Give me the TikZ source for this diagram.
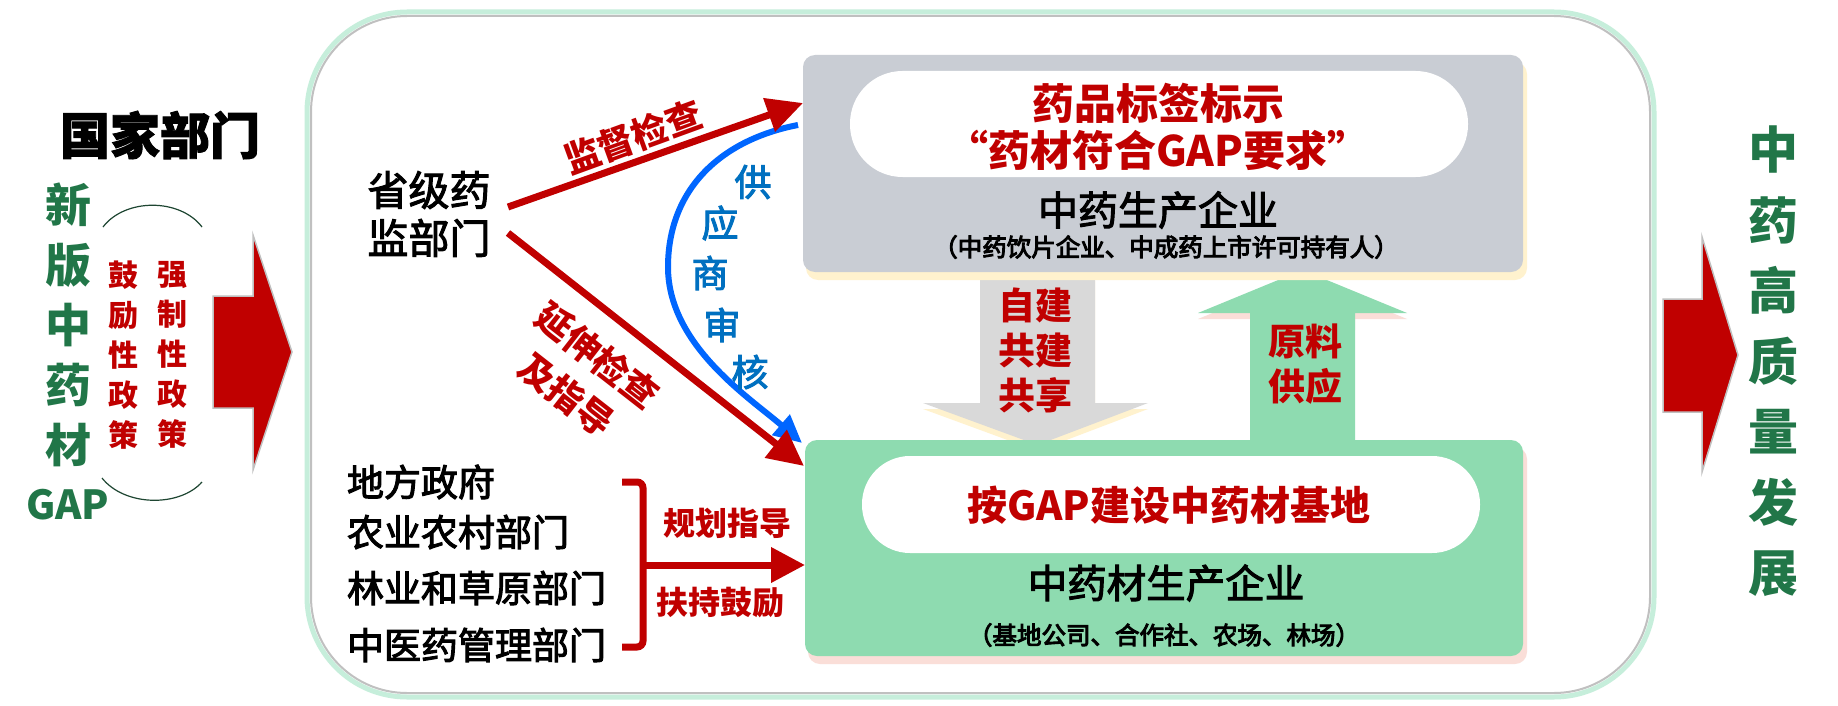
\documentclass[tikz,border=0pt]{standalone}
\usepackage{fontspec}
\newfontfamily\cjk{Noto Sans CJK SC}
\usetikzlibrary{arrows.meta}
\definecolor{myred}{RGB}{192,0,0}
\definecolor{dgreen}{RGB}{33,118,72}
\definecolor{boxgrey}{RGB}{201,205,212}
\definecolor{boxgreen}{RGB}{142,219,176}
\definecolor{arrgrey}{RGB}{217,217,217}
\definecolor{lineblue}{RGB}{0,102,255}
\definecolor{textblue}{RGB}{0,112,192}
\definecolor{outgreen}{RGB}{198,238,219}
\definecolor{shgrey}{RGB}{192,192,192}
\definecolor{glowy}{RGB}{255,242,206}
\definecolor{glowp}{RGB}{250,222,216}
\definecolor{arcgreen}{RGB}{30,70,50}
\newcommand\fsz[2]{\fontsize{#1}{#2}\selectfont}
\newcommand\medw{\special{pdf:literal direct 2 Tr 1.0 w}}
\newcommand\heavyw{\special{pdf:literal direct 2 Tr 0.9 w}}
\begin{document}
\begin{tikzpicture}[x=1pt,y=-1pt,
  lbl/.style={inner sep=0pt, outer sep=0pt},
  redtxt/.style={lbl, text=myred, align=center},
  blacktxt/.style={lbl, text=black, align=center},
  greentxt/.style={lbl, text=dgreen, align=center},
  bluetxt/.style={lbl, text=textblue, font=\cjk\fsz{37}{40}\medw},
  redline/.style={draw=myred, line width=7pt, -{Triangle[length=36pt,width=34pt]}},
  bracketline/.style={draw=myred, line width=7pt, rounded corners=6pt},
  blueline/.style={draw=lineblue, line width=6pt, -{Triangle[length=28pt,width=26pt]}},
  blockarrow/.style={fill=myred, draw=shgrey, line width=1.5pt},
  panel/.style={inner sep=0pt, outer sep=0pt, rounded corners=12pt}
]
\useasboundingbox (0,0) rectangle (1838,706);
\fill[white] (0,0) rectangle (1838,706);

% outer frame
\draw[outgreen, line width=5pt, rounded corners=100pt] (307,12) rectangle (1654,697);
\draw[shgrey, line width=2pt, rounded corners=96pt] (311,16) rectangle (1650,693);

% left block arrow and right block arrow
\filldraw[blockarrow] (213,296) -- (253,296) -- (253,235) -- (292,352) -- (253,470) -- (253,408) -- (213,408) -- cycle;
\filldraw[blockarrow] (1663,299) -- (1702,299) -- (1702,237) -- (1738,355) -- (1702,472) -- (1702,412) -- (1663,412) -- cycle;

% vertical block arrows between panels
\fill[glowy] (980,281) -- (1095,281) -- (1095,409) -- (1148,409) -- (1037.5,451) -- (923,409) -- (980,409) -- cycle;
\fill[arrgrey] (980,275) -- (1095,275) -- (1095,403) -- (1148,403) -- (1037.5,445) -- (923,403) -- (980,403) -- cycle;
\fill[glowp] (1198,319) -- (1250,319) -- (1250,330) -- (1355,330) -- (1355,319) -- (1407,319) -- (1302.5,276) -- cycle;
\fill[boxgreen] (1250,440) -- (1250,313) -- (1198,313) -- (1302.5,270) -- (1407,313) -- (1355,313) -- (1355,440) -- cycle;

% panels
\fill[glowy, rounded corners=12pt] (806,62) rectangle (1527,280);
\node[panel, fill=boxgrey, minimum width=720pt, minimum height=217pt] (prodbox) at (1163,163.5) {};
\node[panel, fill=white, rounded corners=52.5pt, minimum width=618pt, minimum height=106pt] (prodpill) at (1159,124) {};
\fill[glowp, rounded corners=12pt] (808,447) rectangle (1527,664);
\node[panel, fill=boxgreen, minimum width=718pt, minimum height=216pt] (farmbox) at (1164,548) {};
\node[panel, fill=white, rounded corners=48pt, minimum width=618pt, minimum height=97pt] (farmpill) at (1171,504.5) {};

% panel texts
\node[redtxt, font=\cjk\bfseries\fsz{42}{47}] (labelA) at (1158,103) {药品标签标示};
\node[redtxt, font=\cjk\bfseries\fsz{42}{47}] (labelB) at (1158,150) {“药材符合GAP要求”};
\node[blacktxt, font=\cjk\fsz{40}{44}\medw] (prodname) at (1158,210) {中药生产企业};
\node[blacktxt, font=\cjk\fsz{24.5}{28}\medw] (prodsub) at (1166,247) {（中药饮片企业、中成药上市许可持有人）};
\node[redtxt, font=\cjk\bfseries\fsz{40}{46}] (farmtitle) at (1169,505) {按GAP建设中药材基地};
\node[blacktxt, font=\cjk\fsz{39.5}{44}\medw] (farmname) at (1166,583) {中药材生产企业};
\node[blacktxt, font=\cjk\fsz{24.5}{28}\medw] (farmsub) at (1164,635) {（基地公司、合作社、农场、林场）};
\node[redtxt, font=\cjk\bfseries\fsz{37}{45}] (selfbuild) at (1035,350) {自建\\共建\\共享};
\node[redtxt, font=\cjk\bfseries\fsz{37}{45}] (supply) at (1305,364.5) {原料\\供应};

% left column
\node[blacktxt, font=\cjk\bfseries\fsz{50}{56}\heavyw] (nat) at (160,135) {国家部门};
\node[greentxt, font=\cjk\bfseries\fsz{46}{60}] (newgap) at (68,325) {新\\版\\中\\药\\材};
\node[greentxt, font=\cjk\bfseries\fsz{40}{46}] (gap) at (68,505) {GAP};
\node[redtxt, font=\cjk\bfseries\fsz{30}{40}] (encour) at (123,355) {鼓\\励\\性\\政\\策};
\node[redtxt, font=\cjk\bfseries\fsz{30}{40}] (mandat) at (172,355) {强\\制\\性\\政\\策};
\draw[arcgreen, line width=1.2pt] (103,227) .. controls (125,198) and (180,198) .. (202,227);
\draw[arcgreen, line width=1.2pt] (102,478) .. controls (125,507) and (180,507) .. (202,482);

% provincial dept
\node[blacktxt, font=\cjk\fsz{41}{48}\medw] (prov) at (429,214) {省级药\\监部门};

% local departments
\node[blacktxt, anchor=west, font=\cjk\fsz{37}{42}\medw] (loc1) at (347,482) {地方政府};
\node[blacktxt, anchor=west, font=\cjk\fsz{37}{42}\medw] (loc2) at (347,532) {农业农村部门};
\node[blacktxt, anchor=west, font=\cjk\fsz{37}{42}\medw] (loc3) at (347,588) {林业和草原部门};
\node[blacktxt, anchor=west, font=\cjk\fsz{37}{42}\medw] (loc4) at (347,645) {中医药管理部门};

% blue supplier audit arc
\coordinate (bS) at (798,125);
\coordinate (bM) at (668,267);
\coordinate (bE) at (802,443);
\draw[blueline] (bS) .. controls (720,140) and (668,190) .. (bM) .. controls (668,345) and (750,398) .. (bE);
\node[bluetxt] (au1) at (753,182) {供};
\node[bluetxt] (au2) at (720,223) {应};
\node[bluetxt] (au3) at (710,273) {商};
\node[bluetxt] (au4) at (722,325) {审};
\node[bluetxt] (au5) at (750,372) {核};

% red arrows from provincial dept
\coordinate (supA) at (508,207);
\coordinate (tipA) at (803,103);
\coordinate (supC) at (508,233);
\coordinate (tipC) at (804,466);
\draw[redline] (supA) -- (tipA);
\draw[redline] (supC) -- (tipC);
\node[redtxt, rotate=20, font=\cjk\bfseries\fsz{36}{42}] (lblsup) at (633,137) {监督检查};
\node[redtxt, rotate=-38, font=\cjk\bfseries\fsz{36}{50}] (lblext) at (582,375) {延伸检查\\及指导};

% bracket and arrow from local departments
\draw[bracketline] (622,482) -- (643,482) -- (643,647) -- (622,647);
\coordinate (brmid) at (643,565);
\draw[redline, -{Triangle[length=34pt,width=34pt]}] (brmid) -- (brmid -| farmbox.west);
\node[redtxt, font=\cjk\bfseries\fsz{32}{38}] (plan) at (727,523) {规划指导};
\node[redtxt, font=\cjk\bfseries\fsz{32}{38}] (support) at (720,603) {扶持鼓励};

% right text
\node[greentxt, font=\cjk\bfseries\fsz{50}{70.5}] (hq) at (1773,361.5) {中\\药\\高\\质\\量\\发\\展};
\end{tikzpicture}
\end{document}
